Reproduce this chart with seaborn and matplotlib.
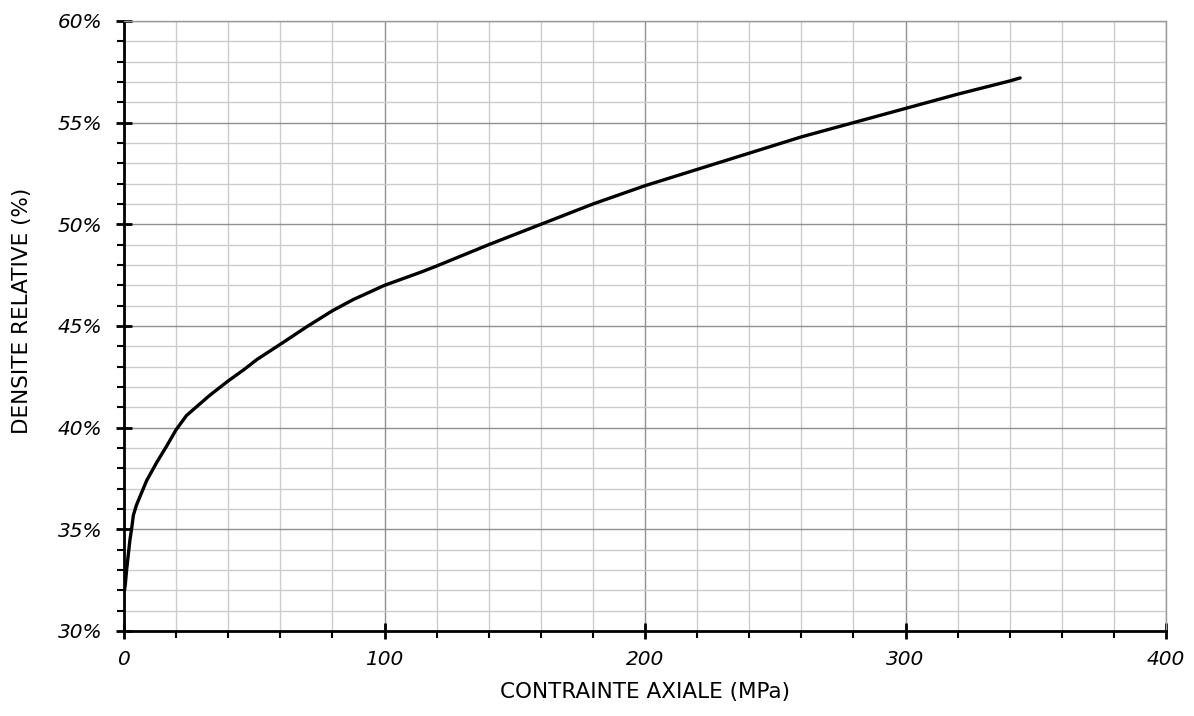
import numpy as np
import pandas as pd
import matplotlib
matplotlib.use("Agg")
import matplotlib.pyplot as plt
import seaborn as sns
from matplotlib.ticker import MultipleLocator, PercentFormatter

# Data
contrainte_mpa = [0.2, 0.5, 1.0, 1.6, 2.3, 3.0, 3.6, 4.8, 6.1, 8.7, 12.6, 16.4, 20, 24, 33, 40, 46,
                  51, 60, 70, 80, 88, 100, 114, 120, 140, 160, 180, 200, 220, 240, 260, 280, 300,
                  320, 340, 344]
densite_pct = [32.0, 32.3, 33.0, 33.7, 34.5, 35.1, 35.7, 36.2, 36.6, 37.4, 38.3, 39.1, 39.9, 40.6,
               41.6, 42.3, 42.85, 43.35, 44.1, 44.95, 45.75, 46.3, 47.0, 47.65, 47.95, 49.0, 50.0,
               51.0, 51.9, 52.7, 53.5, 54.3, 55.0, 55.7, 56.4, 57.05, 57.2]
x_label = "CONTRAINTE AXIALE (MPa)"
y_label = "DENSITE RELATIVE (%)"

df = pd.DataFrame({"x": contrainte_mpa, "y": np.array(densite_pct) / 100.0})

sns.set_style("white")
plt.rcParams["font.family"] = ["DejaVu Sans"]

fig = plt.figure(figsize=(11.94, 7.16), dpi=100)
ax = fig.add_axes([124 / 1194, 1 - 631 / 716, (1166 - 124) / 1194, (631 - 21) / 716])

sns.lineplot(data=df, x="x", y="y", ax=ax, color="black", linewidth=2.4, sort=False, zorder=5)

ax.set_xlim(0, 400)
ax.set_ylim(0.30, 0.60)
ax.xaxis.set_major_locator(MultipleLocator(100))
ax.xaxis.set_minor_locator(MultipleLocator(20))
ax.yaxis.set_major_locator(MultipleLocator(0.05))
ax.yaxis.set_minor_locator(MultipleLocator(0.01))
ax.yaxis.set_major_formatter(PercentFormatter(1.0, decimals=0))

ax.grid(True, which="major", color="#8f8f8f", linewidth=1.0, zorder=0)
ax.grid(True, which="minor", color="#cccccc", linewidth=1.0, zorder=0)
ax.set_axisbelow(True)

for s in ["top", "right"]:
    ax.spines[s].set_color("#9a9a9a")
    ax.spines[s].set_linewidth(1.0)
for s in ["left", "bottom"]:
    ax.spines[s].set_color("black")
    ax.spines[s].set_linewidth(2.0)

ax.tick_params(axis="both", which="major", direction="inout", length=11, width=2, color="black",
               labelsize=14.5, labelcolor="black", pad=10, left=True, bottom=True)
ax.tick_params(axis="x", which="major", pad=8)
ax.tick_params(axis="both", which="minor", direction="out", length=5, width=1.5, color="black",
               left=True, bottom=True)
for lab in ax.get_xticklabels() + ax.get_yticklabels():
    lab.set_fontstyle("italic")

ax.set_xlabel(x_label, fontsize=15.5, color="black")
ax.set_ylabel(y_label, fontsize=15.5, color="black")
ax.xaxis.set_label_coords(0.5, -0.084)
ax.yaxis.set_label_coords(-0.088, 0.525)

fig.savefig("out.png", dpi=100, facecolor="white")
